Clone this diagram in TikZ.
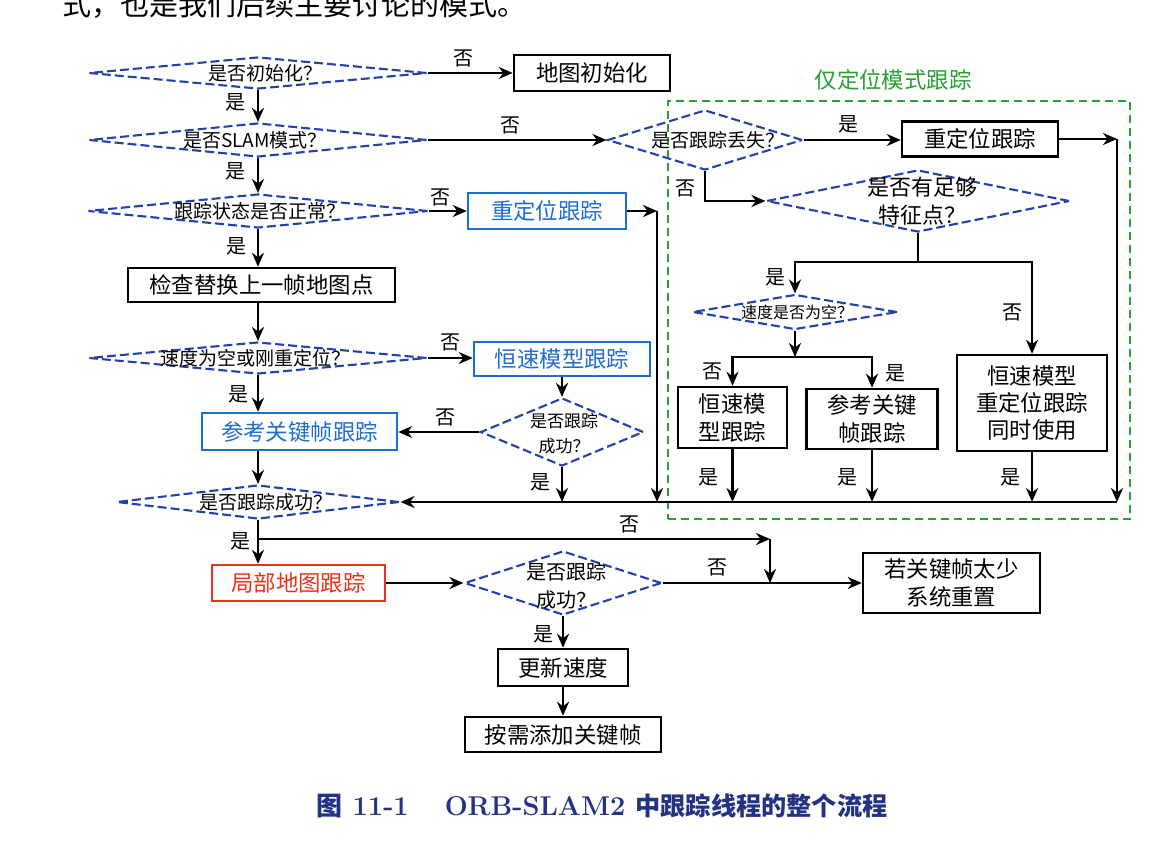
\documentclass[tikz,border=0pt]{standalone}
\usepackage{fontspec}
\newfontfamily\cjk{Noto Sans CJK SC}
\usetikzlibrary{arrows.meta,shapes.geometric}
\definecolor{dblue}{RGB}{35,65,170}
\definecolor{bblue}{RGB}{30,110,210}
\definecolor{rred}{RGB}{235,50,25}
\definecolor{ggreen}{RGB}{40,160,50}
\definecolor{capblue}{RGB}{35,50,130}
\begin{document}
\begin{tikzpicture}[x=0.5pt,y=-0.5pt,
  plainbox/.style={draw=black, line width=1.25pt, inner sep=0pt, align=center,
    font=\cjk\fontsize{11.2}{14}\selectfont},
  bluebox/.style={plainbox, draw=bblue, text=bblue},
  redbox/.style={plainbox, draw=rred, text=rred},
  dmd/.style={diamond, draw=dblue, line width=1.05pt, dash pattern=on 4.5pt off 2pt, inner sep=0pt},
  dtxt/.style={inner sep=0pt, align=center, font=\cjk\fontsize{9.5}{12}\selectfont},
  lbl/.style={inner sep=0pt, font=\cjk\fontsize{10}{12}\selectfont},
  arr/.style={-{Stealth[length=7pt,width=6pt]}, line width=1.2pt},
  ln/.style={line width=1.2pt}]
\useasboundingbox (0,0) rectangle (1166,851);
\fill[white] (0,0) rectangle (1166,851);

% cut-off body text line
\node[anchor=base west, inner sep=0pt, font=\cjk\fontsize{14.5}{16}\selectfont] (top) at (62,15) {式，也是我们后续主要讨论的模式。};

% green group
\node[draw=ggreen, line width=1pt, dash pattern=on 4pt off 2.5pt, minimum width=231pt, minimum height=209pt, inner sep=0pt] (grp) at (899,310) {};
\node[inner sep=0pt, text=ggreen, font=\cjk\fontsize{11.2}{14}\selectfont] (grpl) at (893,80) {仅定位模式跟踪};

% diamonds
\node[dmd, minimum width=169pt, minimum height=16pt] (d1) at (258,73) {};
\node[dtxt] (d1t) at (265,73) {是否初始化？};
\node[dmd, minimum width=169pt, minimum height=17pt] (d2) at (258,140) {};
\node[dtxt] (d2t) at (255,140) {是否SLAM模式？};
\node[dmd, minimum width=170pt, minimum height=17pt] (d3) at (258,211) {};
\node[dtxt] (d3t) at (260,211) {跟踪状态是否正常？};
\node[dmd, minimum width=169pt, minimum height=16pt] (d4) at (258,358) {};
\node[dtxt] (d4t) at (255,358) {速度为空或刚重定位？};
\node[dmd, minimum width=81.5pt, minimum height=34pt] (d5) at (562,432) {};
\node[dtxt, font=\cjk\fontsize{8.5}{12.5}\selectfont] (d5t) at (564,434) {是否跟踪\\成功？};
\node[dmd, minimum width=141.5pt, minimum height=17pt] (d6) at (258,502) {};
\node[dtxt] (d6t) at (266,502) {是否跟踪成功？};
\node[dmd, minimum width=97.5pt, minimum height=30pt] (d7) at (705,140) {};
\node[dtxt] (d7t) at (718,140) {是否跟踪丢失？};
\node[dmd, minimum width=151.5pt, minimum height=31pt] (d8) at (918,201) {};
\node[dtxt, font=\cjk\fontsize{11}{14}\selectfont] (d8t) at (922,201) {是否有足够\\特征点？};
\node[dmd, minimum width=102.5pt, minimum height=17.5pt] (d9) at (795,312) {};
\node[dtxt, font=\cjk\fontsize{8}{10}\selectfont] (d9t) at (797,312) {速度是否为空？};
\node[dmd, minimum width=98.5pt, minimum height=32pt] (d10) at (563,583) {};
\node[dtxt, font=\cjk\fontsize{10}{14}\selectfont] (d10t) at (566,586) {是否跟踪\\成功？};

% boxes
\node[plainbox, minimum width=78pt, minimum height=18pt] (b1) at (592,73) {地图初始化};
\node[bluebox, minimum width=79pt, minimum height=18pt] (b2) at (547,211) {重定位跟踪};
\node[plainbox, minimum width=133.5pt, minimum height=17pt] (b3) at (261.5,285) {检查替换上一帧地图点};
\node[bluebox, minimum width=88pt, minimum height=17pt] (b4) at (562,359) {恒速模型跟踪};
\node[bluebox, minimum width=97.5pt, minimum height=18.5pt] (b5) at (299.5,431.5) {参考关键帧跟踪};
\node[plainbox, minimum width=78pt, minimum height=17.5pt] (b6) at (980,139) {重定位跟踪};
\node[plainbox, minimum width=54.5pt, minimum height=30.5pt] (b7) at (732.5,417.5) {恒速模\\型跟踪};
\node[plainbox, minimum width=65.5pt, minimum height=30pt] (b8) at (872,419) {参考关键\\帧跟踪};
\node[plainbox, minimum width=75pt, minimum height=48pt, font=\cjk\fontsize{11.2}{13.5}\selectfont] (b9) at (1032,403) {恒速模型\\重定位跟踪\\同时使用};
\node[redbox, minimum width=86.5pt, minimum height=18pt] (b10) at (298.5,583) {局部地图跟踪};
\node[plainbox, minimum width=88.5pt, minimum height=30pt] (b11) at (951.5,583) {若关键帧太少\\系统重置};
\node[plainbox, minimum width=65pt, minimum height=18.5pt] (b12) at (563,667.5) {更新速度};
\node[plainbox, minimum width=98pt, minimum height=17.5pt] (b13) at (563,734.5) {按需添加关键帧};

% junction coordinates
\coordinate (c1) at (657,211);
\coordinate (j1) at (657,502);
\coordinate (j2) at (562,502);
\coordinate (c2) at (1117,139);
\coordinate (jR) at (1117,502);
\coordinate (k) at (918,262);
\coordinate (m) at (795,357);
\coordinate (q) at (770,539);
\coordinate (r) at (770,583);

% connectors
\draw[arr] (d1.east) -- (d1.east -| b1.west);
\draw[arr] (d1.south) -- (d2.north);
\draw[arr] (d2.east) -- (d7.west);
\draw[arr] (d2.south) -- (d3.north);
\draw[arr] (d3.east) -- (d3.east -| b2.west);
\draw[arr] (b2.east) -- (c1);
\draw[arr] (c1) -- (j1);
\draw[arr] (d3.south) -- (d3.south |- b3.north);
\draw[arr] (d4.north |- b3.south) -- (d4.north);
\draw[arr] (d4.east) -- (d4.east -| b4.west);
\draw[arr] (d4.south) -- (d4.south |- b5.north);
\draw[arr] (b4.south) -- (d5.north);
\draw[arr] (d5.west) -- (d5.west -| b5.east);
\draw[arr] (d5.south) -- (j2);
\draw[arr] (d6.north |- b5.south) -- (d6.north);
\draw[arr] (jR) -- (d6.east);
\draw[arr] (d7.east) -- (d7.east -| b6.west);
\draw[arr] (b6.east) -- (c2);
\draw[arr] (c2) -- (jR);
\draw[arr] (d7.south) |- (d8.west);
\draw[ln] (d8.south) -- (k);
\draw[arr] (k) -| (d9.north);
\draw[arr] (k) -| (b9.north);
\draw[arr] (d9.south) -- (m);
\draw[arr] (m) -| (b7.north);
\draw[arr] (m) -| (b8.north);
\draw[arr] (b7.south) -- (b7.south |- jR);
\draw[arr] (b8.south) -- (b8.south |- jR);
\draw[arr] (b9.south) -- (b9.south |- jR);
\draw[arr] (d6.south) -- (d6.south |- b10.north);
\draw[arr] (d6.south |- q) -- (q);
\draw[arr] (q) -- (r);
\draw[arr] (b10.east) -- (d10.west);
\draw[arr] (d10.east) -- (b11.west);
\draw[arr] (d10.south) -- (b12.north);
\draw[arr] (b12.south) -- (b13.north);

% yes / no labels
\node[lbl] (l1) at (463,58) {否};
\node[lbl] (l2) at (235,102) {是};
\node[lbl] (l3) at (510,125) {否};
\node[lbl] (l4) at (235,171) {是};
\node[lbl] (l5) at (440,197) {否};
\node[lbl] (l6) at (236,246) {是};
\node[lbl] (l7) at (450,342) {否};
\node[lbl] (l8) at (238,394) {是};
\node[lbl] (l9) at (445,417) {否};
\node[lbl] (l10) at (540,482) {是};
\node[lbl] (l11) at (848,124) {是};
\node[lbl] (l12) at (685,188) {否};
\node[lbl] (l13) at (775,277) {是};
\node[lbl] (l14) at (1012,312) {否};
\node[lbl] (l15) at (712,371) {否};
\node[lbl] (l16) at (895,373) {是};
\node[lbl] (l17) at (708,477) {是};
\node[lbl] (l18) at (847,477) {是};
\node[lbl] (l19) at (1010,477) {是};
\node[lbl] (l20) at (240,541) {是};
\node[lbl] (l21) at (629,524) {否};
\node[lbl] (l22) at (717,567) {否};
\node[lbl] (l23) at (543,634) {是};

% caption
\node[inner sep=0pt, text=capblue, font=\bfseries\fontsize{13.6}{16}\selectfont] (cap) at (602,806)
  {{\cjk\fontsize{13}{16}\selectfont 图} 11-1\hspace{18pt}ORB-SLAM2 {\cjk\fontsize{12.6}{16}\selectfont 中跟踪线程的整个流程}};
\end{tikzpicture}
\end{document}
